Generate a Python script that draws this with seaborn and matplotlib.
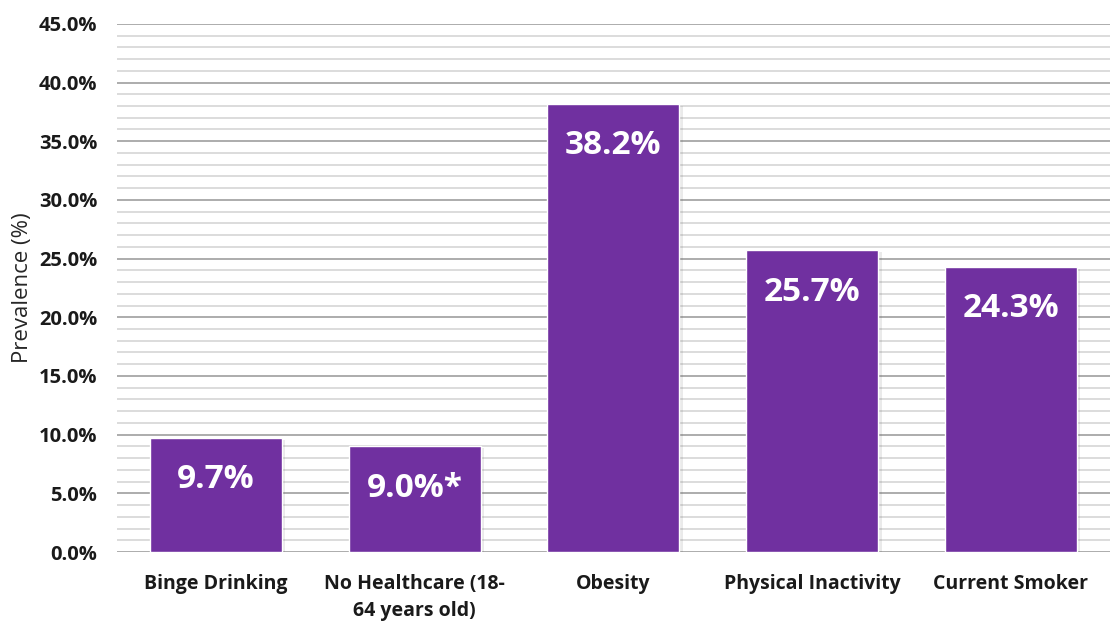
import numpy as np
import pandas as pd
import matplotlib
matplotlib.use("Agg")
import matplotlib.pyplot as plt
import matplotlib.patheffects as pe
from matplotlib.ticker import MultipleLocator, FuncFormatter
import seaborn as sns

categories = ["Binge Drinking", "No Healthcare (18-\n64 years old)", "Obesity",
              "Physical Inactivity", "Current Smoker"]
values = [9.7, 9.0, 38.2, 25.7, 24.3]
labels = ["9.7%", "9.0%*", "38.2%", "25.7%", "24.3%"]

df = pd.DataFrame({"category": categories, "value": values})

sns.set_style("white")
plt.rcParams["font.family"] = ["Open Sans", "DejaVu Sans"]

fig = plt.figure(figsize=(11.1, 6.28), dpi=100)
ax = fig.add_axes([0.105, 0.121, 0.895, 0.841])

sns.barplot(data=df, x="category", y="value", color="#7030A0", saturation=1,
            width=0.665, ax=ax, zorder=3)

for bar in ax.patches:
    bar.set_path_effects([pe.SimplePatchShadow(offset=(2.5, -1.5), alpha=0.12,
                                               shadow_rgbFace="#555555"), pe.Normal()])

for bar, lab in zip(ax.patches, labels):
    ax.annotate(lab, (bar.get_x() + bar.get_width() / 2, bar.get_height()),
                xytext=(0, -30), textcoords="offset points", ha="center", va="center",
                color="white", fontsize=24, fontweight="bold")

ax.set_ylim(0, 45)
ax.set_xlim(-0.5, 4.5)
ax.yaxis.set_major_locator(MultipleLocator(5))
ax.yaxis.set_minor_locator(MultipleLocator(1))
ax.yaxis.set_major_formatter(FuncFormatter(lambda v, p: f"{v:.1f}%"))
ax.grid(axis="y", which="major", color="#a6a6a6", linewidth=1.3, zorder=0)
ax.grid(axis="y", which="minor", color="#d9d9d9", linewidth=1.3, zorder=0)
ax.set_axisbelow(True)
for s in ax.spines.values():
    s.set_visible(False)
ax.tick_params(axis="both", which="both", length=0)
ax.tick_params(axis="y", pad=14)
ax.tick_params(axis="x", pad=16)
for t in ax.get_yticklabels():
    t.set_fontsize(14.5)
    t.set_fontweight("bold")
    t.set_color("#1a1a1a")
for t in ax.get_xticklabels():
    t.set_fontsize(14)
    t.set_fontweight("bold")
    t.set_color("#1a1a1a")
    t.set_linespacing(1.45)
ax.set_xlabel("")
ax.set_ylabel("Prevalence (%)", fontsize=16, labelpad=4)

fig.savefig("out.png", dpi=100)
